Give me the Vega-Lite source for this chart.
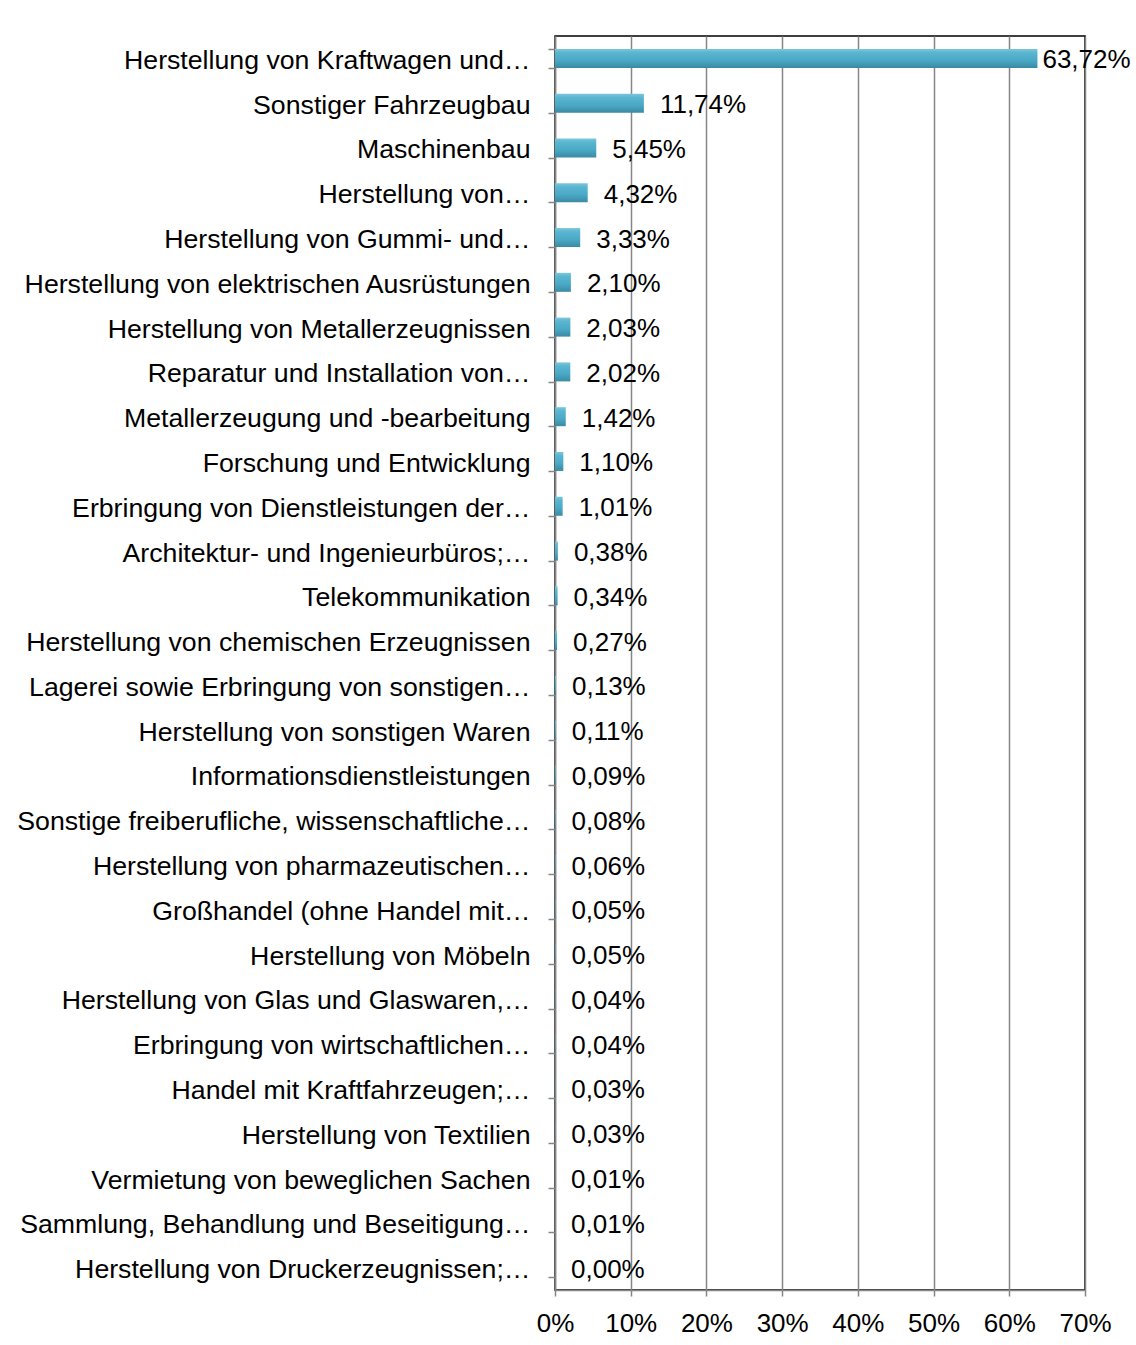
{
  "$schema": "https://vega.github.io/schema/vega-lite/v6.json",
  "autosize": {"type": "none"},
  "width": 530,
  "height": 1254,
  "padding": {"left": 555, "top": 36, "right": 51, "bottom": 55},
  "background": "#ffffff",
  "config": {
    "locale": {"number": {"decimal": ",", "thousands": ".", "grouping": [3], "currency": ["", " €"]}},
    "font": "Liberation Sans",
    "view": {"stroke": "#000000", "strokeWidth": 1.5},
    "axis": {"labelFont": "Liberation Sans", "labelFontSize": 26, "labelColor": "#000000"}
  },
  "data": {
    "values": [
      {"branche": "Herstellung von Kraftwagen und…", "anteil": 0.6372},
      {"branche": "Sonstiger Fahrzeugbau", "anteil": 0.1174},
      {"branche": "Maschinenbau", "anteil": 0.0545},
      {"branche": "Herstellung von…", "anteil": 0.0432},
      {"branche": "Herstellung von Gummi- und…", "anteil": 0.0333},
      {"branche": "Herstellung von elektrischen Ausrüstungen", "anteil": 0.0210},
      {"branche": "Herstellung von Metallerzeugnissen", "anteil": 0.0203},
      {"branche": "Reparatur und Installation von…", "anteil": 0.0202},
      {"branche": "Metallerzeugung und -bearbeitung", "anteil": 0.0142},
      {"branche": "Forschung und Entwicklung", "anteil": 0.0110},
      {"branche": "Erbringung von Dienstleistungen der…", "anteil": 0.0101},
      {"branche": "Architektur- und Ingenieurbüros;…", "anteil": 0.0038},
      {"branche": "Telekommunikation", "anteil": 0.0034},
      {"branche": "Herstellung von chemischen Erzeugnissen", "anteil": 0.0027},
      {"branche": "Lagerei sowie Erbringung von sonstigen…", "anteil": 0.0013},
      {"branche": "Herstellung von sonstigen Waren", "anteil": 0.0011},
      {"branche": "Informationsdienstleistungen", "anteil": 0.0009},
      {"branche": "Sonstige freiberufliche, wissenschaftliche…", "anteil": 0.0008},
      {"branche": "Herstellung von pharmazeutischen…", "anteil": 0.0006},
      {"branche": "Großhandel (ohne Handel mit…", "anteil": 0.0005},
      {"branche": "Herstellung von Möbeln", "anteil": 0.0005},
      {"branche": "Herstellung von Glas und Glaswaren,…", "anteil": 0.0004},
      {"branche": "Erbringung von wirtschaftlichen…", "anteil": 0.0004},
      {"branche": "Handel mit Kraftfahrzeugen;…", "anteil": 0.0003},
      {"branche": "Herstellung von Textilien", "anteil": 0.0003},
      {"branche": "Vermietung von beweglichen Sachen", "anteil": 0.0001},
      {"branche": "Sammlung, Behandlung und Beseitigung…", "anteil": 0.0001},
      {"branche": "Herstellung von Druckerzeugnissen;…", "anteil": 0.0000}
    ]
  },
  "encoding": {
    "y": {
      "field": "branche", "type": "nominal", "sort": null, "title": null,
      "scale": {"paddingInner": 0.57, "paddingOuter": 0.285},
      "axis": {
        "tickBand": "extent", "tickSize": 7, "tickColor": "#868686", "tickWidth": 1.5,
        "domainColor": "#868686", "domainWidth": 1.5, "labelPadding": 18,
        "labelLimit": 0, "grid": false, "labelFontSize": 26.7, "labelOffset": 2
      }
    },
    "x": {
      "field": "anteil", "type": "quantitative", "title": null,
      "scale": {"domain": [0, 0.7], "nice": false},
      "axis": {
        "format": ".0%", "values": [0, 0.1, 0.2, 0.3, 0.4, 0.5, 0.6, 0.7],
        "grid": true, "gridColor": "#868686", "gridWidth": 1.5, "gridOpacity": 1,
        "tickSize": 6, "tickColor": "#868686", "tickWidth": 1.5,
        "domainColor": "#868686", "domainWidth": 1.5, "labelPadding": 14,
        "labelFlush": false
      }
    }
  },
  "layer": [
    {
      "mark": {
        "type": "bar", "size": 19,
        "color": {
          "gradient": "linear", "x1": 0, "y1": 0, "x2": 0, "y2": 1,
          "stops": [
            {"offset": 0, "color": "#7cc6dc"},
            {"offset": 0.2, "color": "#5ab5d0"},
            {"offset": 0.6, "color": "#4aa9c6"},
            {"offset": 1, "color": "#3b8aa3"}
          ]
        }
      }
    },
    {
      "transform": [{"filter": "datum.anteil < 0.5"}],
      "mark": {"type": "text", "align": "left", "baseline": "middle", "dx": 16, "dy": 2, "fontSize": 26, "font": "Liberation Sans", "color": "#000000"},
      "encoding": {"text": {"field": "anteil", "type": "quantitative", "format": ".2%"}}
    },
    {
      "transform": [{"filter": "datum.anteil >= 0.5"}],
      "mark": {"type": "text", "align": "left", "baseline": "middle", "dx": 5, "dy": 2, "fontSize": 26, "font": "Liberation Sans", "color": "#000000"},
      "encoding": {"text": {"field": "anteil", "type": "quantitative", "format": ".2%"}}
    }
  ]
}
